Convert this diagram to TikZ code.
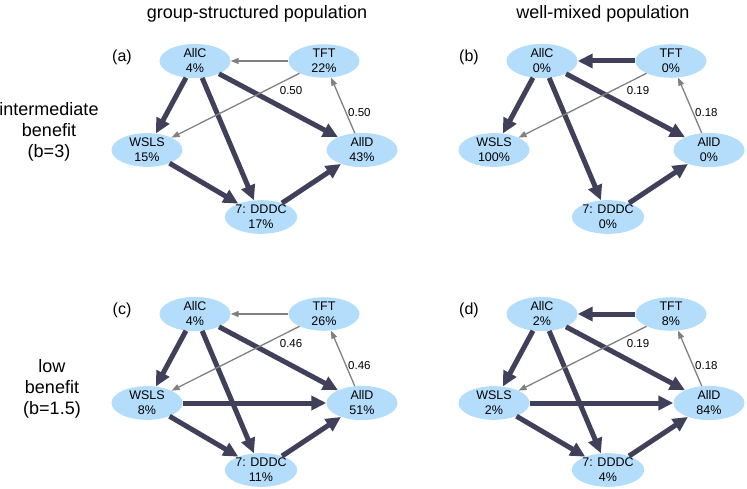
\documentclass[tikz,border=0pt]{standalone}
\usepackage{fontspec}
\setmainfont{Liberation Sans}
\usetikzlibrary{shapes.geometric,arrows.meta}
\definecolor{nodeblue}{RGB}{180,221,252}
\definecolor{strong}{RGB}{64,64,90}
\definecolor{weak}{RGB}{128,128,128}

\begin{document}
\begin{tikzpicture}[x=1pt,y=-1pt,
    strat/.style={ellipse,fill=nodeblue,minimum width=71pt,minimum height=33pt,
                  inner sep=0pt,align=center,font=\fontsize{12.5}{15}\selectfont},
    big/.style={draw=strong,line width=5pt,-{Triangle[length=15pt,width=14pt]}},
    small/.style={draw=weak,line width=1.3pt,-{Triangle[length=8pt,width=6pt]}},
    prob/.style={font=\fontsize{11.5}{13}\selectfont,inner sep=1.5pt},
    panel/.style={font=\fontsize{16}{18}\selectfont},
    head/.style={font=\fontsize{18}{21}\selectfont,align=center}]
\useasboundingbox (0,0) rectangle (747,489);

% column and row titles
\node[head,anchor=base] (title-gs) at (257,19) {group-structured population};
\node[head,anchor=base] (title-wm) at (603,19) {well-mixed population};
\node[head] (row-int) at (49,132) {intermediate\\benefit\\(b=3)};
\node[head] (row-low) at (52,389) {low\\benefit\\(b=1.5)};

% (a)
\begin{scope}[shift={(0,0)}]
\node[panel] (lab-a) at (122,57) {(a)};
\node[strat] (allc-a) at (195,61) {AllC\\4\%};
\node[strat] (tft-a) at (324,61) {TFT\\22\%};
\node[strat] (wsls-a) at (147,150) {WSLS\\15\%};
\node[strat] (alld-a) at (362,150) {AllD\\43\%};
\node[strat] (dddc-a) at (261,217) {7: DDDC\\17\%};
\draw[big] (allc-a) -- (wsls-a);
\draw[big] (allc-a) -- (dddc-a);
\draw[big] (allc-a) -- (alld-a);
\draw[big] (wsls-a) -- (dddc-a);
\draw[big] (dddc-a) -- (alld-a);
\draw[small] (tft-a) -- (allc-a);
\draw[small] (tft-a) -- node[prob,pos=0.17,anchor=north west] {0.50} (wsls-a);
\draw[small] (alld-a) -- node[prob,pos=0.37,anchor=west] {0.50} (tft-a);
\end{scope}

% (b)
\begin{scope}[shift={(347,0)}]
\node[panel] (lab-b) at (122,57) {(b)};
\node[strat] (allc-b) at (195,61) {AllC\\0\%};
\node[strat] (tft-b) at (324,61) {TFT\\0\%};
\node[strat] (wsls-b) at (147,150) {WSLS\\100\%};
\node[strat] (alld-b) at (362,150) {AllD\\0\%};
\node[strat] (dddc-b) at (261,217) {7: DDDC\\0\%};
\draw[big] (tft-b) -- (allc-b);
\draw[big] (allc-b) -- (wsls-b);
\draw[big] (allc-b) -- (dddc-b);
\draw[big] (allc-b) -- (alld-b);
\draw[big] (dddc-b) -- (alld-b);
\draw[small] (tft-b) -- node[prob,pos=0.17,anchor=north west] {0.19} (wsls-b);
\draw[small] (alld-b) -- node[prob,pos=0.37,anchor=west] {0.18} (tft-b);
\end{scope}

% (c)
\begin{scope}[shift={(0,253)}]
\node[panel] (lab-c) at (122,57) {(c)};
\node[strat] (allc-c) at (195,61) {AllC\\4\%};
\node[strat] (tft-c) at (324,61) {TFT\\26\%};
\node[strat] (wsls-c) at (147,150) {WSLS\\8\%};
\node[strat] (alld-c) at (362,150) {AllD\\51\%};
\node[strat] (dddc-c) at (261,217) {7: DDDC\\11\%};
\draw[big] (allc-c) -- (wsls-c);
\draw[big] (allc-c) -- (dddc-c);
\draw[big] (allc-c) -- (alld-c);
\draw[big] (wsls-c) -- (alld-c);
\draw[big] (wsls-c) -- (dddc-c);
\draw[big] (dddc-c) -- (alld-c);
\draw[small] (tft-c) -- (allc-c);
\draw[small] (tft-c) -- node[prob,pos=0.17,anchor=north west] {0.46} (wsls-c);
\draw[small] (alld-c) -- node[prob,pos=0.37,anchor=west] {0.46} (tft-c);
\end{scope}

% (d)
\begin{scope}[shift={(347,253)}]
\node[panel] (lab-d) at (122,57) {(d)};
\node[strat] (allc-d) at (195,61) {AllC\\2\%};
\node[strat] (tft-d) at (324,61) {TFT\\8\%};
\node[strat] (wsls-d) at (147,150) {WSLS\\2\%};
\node[strat] (alld-d) at (362,150) {AllD\\84\%};
\node[strat] (dddc-d) at (261,217) {7: DDDC\\4\%};
\draw[big] (tft-d) -- (allc-d);
\draw[big] (allc-d) -- (wsls-d);
\draw[big] (allc-d) -- (dddc-d);
\draw[big] (allc-d) -- (alld-d);
\draw[big] (wsls-d) -- (alld-d);
\draw[big] (wsls-d) -- (dddc-d);
\draw[big] (dddc-d) -- (alld-d);
\draw[small] (tft-d) -- node[prob,pos=0.17,anchor=north west] {0.19} (wsls-d);
\draw[small] (alld-d) -- node[prob,pos=0.37,anchor=west] {0.18} (tft-d);
\end{scope}
\end{tikzpicture}
\end{document}
